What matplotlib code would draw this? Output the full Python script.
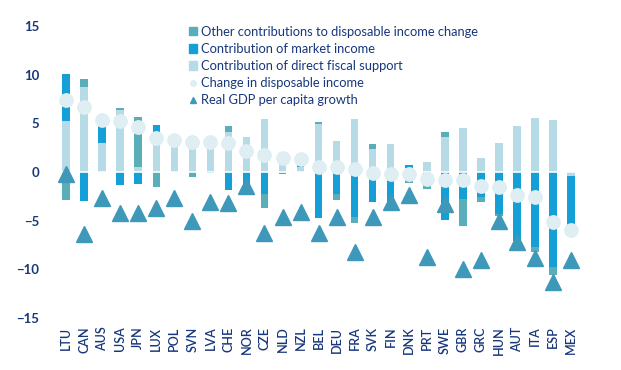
import numpy as np
import matplotlib
matplotlib.use("Agg")
import matplotlib.pyplot as plt
from matplotlib.lines import Line2D
from matplotlib.patches import Patch

# Values
countries = ["LTU", "CAN", "AUS", "USA", "JPN", "LUX", "POL", "SVN", "LVA", "CHE",
             "NOR", "CZE", "NLD", "NZL", "BEL", "DEU", "FRA", "SVK", "FIN", "DNK",
             "PRT", "SWE", "GBR", "GRC", "HUN", "AUT", "ITA", "ESP", "MEX"]
fiscal = [5.2, 8.75, 3.0, 6.4, 0.55, 4.07, 3.3, 3.6, 3.15, 4.13,
          3.55, 5.4, 1.67, 0.48, 4.96, 3.21, 5.44, 2.32, 2.87, 0.45,
          1.03, 3.62, 4.51, 1.44, 2.97, 4.72, 5.54, 5.33, -0.38]
market = [4.9, -2.95, 2.35, -1.33, -1.23, 0.75, 0.0, 0.0, -0.1, -1.85,
          -1.35, -2.3, 0.0, 0.85, -4.68, -2.26, -4.58, -3.04, -3.05, 0.3,
          0.0, -4.95, -2.77, -2.53, -4.3, -7.05, -7.72, -9.77, -5.55]
other = [-2.85, 0.8, 0.0, 0.15, 5.05, -1.5, 0.0, -0.55, 0.0, 0.6,
         0.0, -1.4, -0.2, 0.0, 0.2, -0.6, -0.7, 0.55, 0.0, -1.15,
         -1.75, 0.5, -2.73, -0.5, -0.25, 0.0, -0.45, -0.8, 0.0]
change = [7.4, 6.7, 5.35, 5.23, 4.65, 3.52, 3.28, 3.05, 3.08, 2.94,
          2.19, 1.74, 1.47, 1.33, 0.55, 0.55, 0.31, -0.1, -0.2, -0.24,
          -0.7, -0.82, -0.82, -1.4, -1.5, -2.33, -2.53, -5.13, -5.95]
gdp = [-0.2, -6.4, -2.7, -4.24, -4.24, -3.73, -2.66, -5.0, -3.04, -3.18,
       -1.45, -6.3, -4.58, -4.07, -6.3, -4.65, -8.24, -4.58, -3.04, -2.36,
       -8.72, -3.28, -9.9, -9.03, -5.0, -7.2, -8.79, -11.3, -9.03]

c_other = "#5aaeb9"
c_market = "#14a0d6"
c_fiscal = "#b6dbe6"
c_change = "#deeef2"
c_gdp = "#3e98b9"
navy = "#17377c"

plt.rcParams["font.family"] = ["Lato", "DejaVu Sans"]

fig = plt.figure(figsize=(6.21, 3.70), dpi=100)
ax = fig.add_axes([0.092, 0.14, 0.842, 0.79])

x = np.arange(len(countries))
pos_bottom = np.zeros(len(x))
neg_bottom = np.zeros(len(x))
# stack positives and negatives separately: fiscal, market, other
for vals, col in [(fiscal, c_fiscal), (market, c_market), (other, c_other)]:
    v = np.array(vals)
    bottom = np.where(v >= 0, pos_bottom, neg_bottom)
    ax.bar(x, v, width=0.42, bottom=bottom, color=col, zorder=2)
    pos_bottom += np.clip(v, 0, None)
    neg_bottom += np.clip(v, None, 0)

ax.axhline(0, color="white", lw=1.2, zorder=3)
ax.plot(x, change, "o", color=c_change, ms=9.6, zorder=4)
ax.plot(x, gdp, "^", color=c_gdp, ms=11.5, zorder=5)

ax.set_xlim(-0.5, len(x) - 0.5)
ax.set_ylim(-15, 15)
ax.set_yticks([-15, -10, -5, 0, 5, 10, 15])
ax.set_xticks(x)
ax.set_xticklabels(countries, rotation=90, fontsize=9, color=navy,
                   fontweight="semibold")
for lab in ax.get_yticklabels():
    lab.set_fontweight("bold")
    lab.set_color(navy)
    lab.set_fontsize(9.5)
ax.tick_params(axis="y", length=0, pad=13)
ax.tick_params(axis="x", length=0, pad=6)
for s in ax.spines.values():
    s.set_visible(False)

handles = [Patch(color=c_other), Patch(color=c_market), Patch(color=c_fiscal),
           Line2D([], [], marker="o", ls="", color=c_change, ms=4),
           Line2D([], [], marker="^", ls="", color=c_gdp, ms=5)]
labels = ["Other contributions to disposable income change",
          "Contribution of market income",
          "Contribution of direct fiscal support",
          "Change in disposable income",
          "Real GDP per capita growth"]
leg = ax.legend(handles, labels, loc="upper left", bbox_to_anchor=(0.243, 1.018),
                frameon=False, fontsize=9.3, handlelength=0.6, handleheight=0.6,
                handletextpad=0.3, labelspacing=0.4, borderaxespad=0)
for t in leg.get_texts():
    t.set_color(navy)

fig.savefig("out.png", dpi=100)
